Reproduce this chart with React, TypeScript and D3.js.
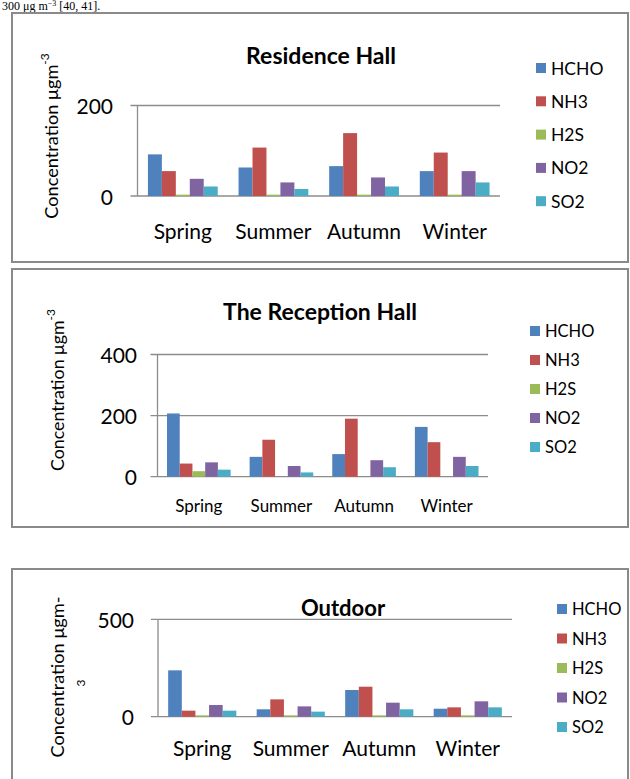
import React from "react";
import * as d3 from "d3";

const seasons = ["Spring", "Summer", "Autumn", "Winter"];
const pollutants = ["HCHO", "NH3", "H2S", "NO2", "SO2"];
const colors = ["#4F81BD", "#C0504D", "#9BBB59", "#8064A2", "#4BACC6"];

// Residence Hall
const residenceHCHO = [92, 63, 66, 55];
const residenceNH3 = [55, 107, 139, 96];
const residenceH2S = [3, 3, 3, 3];
const residenceNO2 = [38, 30, 41, 55];
const residenceSO2 = [21, 15.5, 21, 30];
const residenceTicks = [0, 200];

// The Reception Hall
const receptionHCHO = [207, 65, 74, 163];
const receptionNH3 = [43, 121, 190, 113];
const receptionH2S = [18, 0, 0, 0];
const receptionNO2 = [47, 35, 54, 65];
const receptionSO2 = [23, 14, 31, 35];
const receptionTicks = [0, 200, 400];

// Outdoor
const outdoorHCHO = [238, 38, 137, 41];
const outdoorNH3 = [31, 89, 154, 48];
const outdoorH2S = [7, 7, 7, 7];
const outdoorNO2 = [60, 53, 72, 79];
const outdoorSO2 = [31, 26, 38, 48];
const outdoorTicks = [0, 500];

const FONT = "Lato, 'Open Sans', sans-serif";

type PanelCfg = {
  title: string;
  series: number[][];
  ticks: number[];
  box: [number, number, number, number];
  x0: number; x1: number; yTop: number; yBase: number;
  tickRight: number; tickFont: number;
  catY: number; catFont: number;
  titleX: number; titleY: number; titleFont: number;
  legX: number; legY: number; legDy: number; legFont: number;
  labX: number; labY: number; labFont: number; wrapLabel?: boolean;
};

const panels: PanelCfg[] = [
  {
    title: "Residence Hall",
    series: [residenceHCHO, residenceNH3, residenceH2S, residenceNO2, residenceSO2],
    ticks: residenceTicks,
    box: [12, 13, 628, 262],
    x0: 137.5, x1: 500, yTop: 105.5, yBase: 196,
    tickRight: 113, tickFont: 21,
    catY: 230, catFont: 21,
    titleX: 321, titleY: 55, titleFont: 23,
    legX: 536, legY: 68, legDy: 33.3, legFont: 17.5,
    labX: 51, labY: 136, labFont: 18.2,
  },
  {
    title: "The Reception Hall",
    series: [receptionHCHO, receptionNH3, receptionH2S, receptionNO2, receptionSO2],
    ticks: receptionTicks,
    box: [12, 269, 628, 527],
    x0: 157.5, x1: 488, yTop: 354.5, yBase: 476.7,
    tickRight: 137, tickFont: 21,
    catY: 505, catFont: 17,
    titleX: 320, titleY: 311, titleFont: 23,
    legX: 530, legY: 331, legDy: 29, legFont: 16.5,
    labX: 57, labY: 390, labFont: 17.8,
  },
  {
    title: "Outdoor",
    series: [outdoorHCHO, outdoorNH3, outdoorH2S, outdoorNO2, outdoorSO2],
    ticks: outdoorTicks,
    box: [12, 569, 628, 800],
    x0: 158, x1: 512, yTop: 619.3, yBase: 716.7,
    tickRight: 134, tickFont: 21,
    catY: 747, catFont: 21,
    titleX: 343, titleY: 607, titleFont: 22,
    legX: 557, legY: 609, legDy: 29.5, legFont: 16.5,
    labX: 57, labY: 677, labFont: 18.2, wrapLabel: true,
  },
];

function Panel({ p }: { p: PanelCfg }) {
  const x = d3.scaleBand<string>().domain(seasons).range([p.x0, p.x1]).paddingInner(0.23).paddingOuter(0.115);
  const x1 = d3.scaleBand<string>().domain(pollutants).range([0, x.bandwidth()]);
  const y = d3.scaleLinear().domain([0, p.ticks[p.ticks.length - 1]]).range([p.yBase, p.yTop]);
  const [bx0, by0, bx1, by1] = p.box;
  return (
    <g>
      <rect x={bx0} y={by0} width={bx1 - bx0} height={by1 - by0} fill="white" stroke="#8a8a8a" strokeWidth={2} />
      <text x={p.titleX} y={p.titleY} textAnchor="middle" dominantBaseline="central" fontFamily={FONT} fontWeight="bold" fontSize={p.titleFont} fill="#000">{p.title}</text>
      {p.ticks.map((t) => (
        <g key={t}>
          <line x1={p.x0 - 7} x2={p.x1} y1={y(t)} y2={y(t)} stroke="#8c8c8c" strokeWidth={1.3} />
          <text x={p.tickRight} y={y(t)} textAnchor="end" dominantBaseline="central" fontFamily={FONT} fontSize={p.tickFont} fill="#000">{t}</text>
        </g>
      ))}
      <line x1={p.x0} x2={p.x0} y1={p.yTop} y2={p.yBase} stroke="#8c8c8c" strokeWidth={1.3} />
      {seasons.map((s, i) => (
        <g key={s}>
          {pollutants.map((k, j) => {
            const v = p.series[j][i];
            if (v <= 0) return null;
            return (
              <rect key={k} x={(x(s) as number) + (x1(k) as number)} width={x1.bandwidth()} y={y(v)} height={p.yBase - y(v)} fill={colors[j]} />
            );
          })}
          <text x={(x(s) as number) + x.bandwidth() / 2} y={p.catY} textAnchor="middle" dominantBaseline="central" fontFamily={FONT} fontSize={p.catFont} fill="#000">{s}</text>
        </g>
      ))}
      {pollutants.map((k, j) => (
        <g key={k}>
          <rect x={p.legX} y={p.legY + j * p.legDy - 5} width={10} height={10} fill={colors[j]} />
          <text x={p.legX + 15} y={p.legY + j * p.legDy} dominantBaseline="central" fontFamily={FONT} fontSize={p.legFont} fill="#000">{k}</text>
        </g>
      ))}
      {p.wrapLabel ? (
        <g>
          <text transform={`translate(${p.labX},${p.labY}) rotate(-90)`} textAnchor="middle" dominantBaseline="central" fontFamily={FONT} fontSize={p.labFont} fill="#000">Concentration μgm-</text>
          <text transform={`translate(${p.labX + 23},${p.labY + 6}) rotate(-90)`} textAnchor="middle" dominantBaseline="central" fontFamily={FONT} fontSize={12} fill="#000">3</text>
        </g>
      ) : (
        <text transform={`translate(${p.labX},${p.labY}) rotate(-90)`} textAnchor="middle" dominantBaseline="central" fontFamily={FONT} fontSize={p.labFont} fill="#000">
          Concentration μgm<tspan dy={-7} fontSize={12}>-3</tspan>
        </text>
      )}
    </g>
  );
}

export default function App() {
  return (
    <svg width={630} height={779} style={{ position: "absolute", left: 0, top: 0 }}>
      <rect width={630} height={779} fill="white" />
      <text x={2} y={10} fontFamily="'Liberation Serif', serif" fontSize={12} fill="#000">300 μg m<tspan dy={-4} fontSize={8}>−3</tspan><tspan dy={4}> [40, 41].</tspan></text>
      {panels.map((p) => (
        <Panel key={p.title} p={p} />
      ))}
    </svg>
  );
}
